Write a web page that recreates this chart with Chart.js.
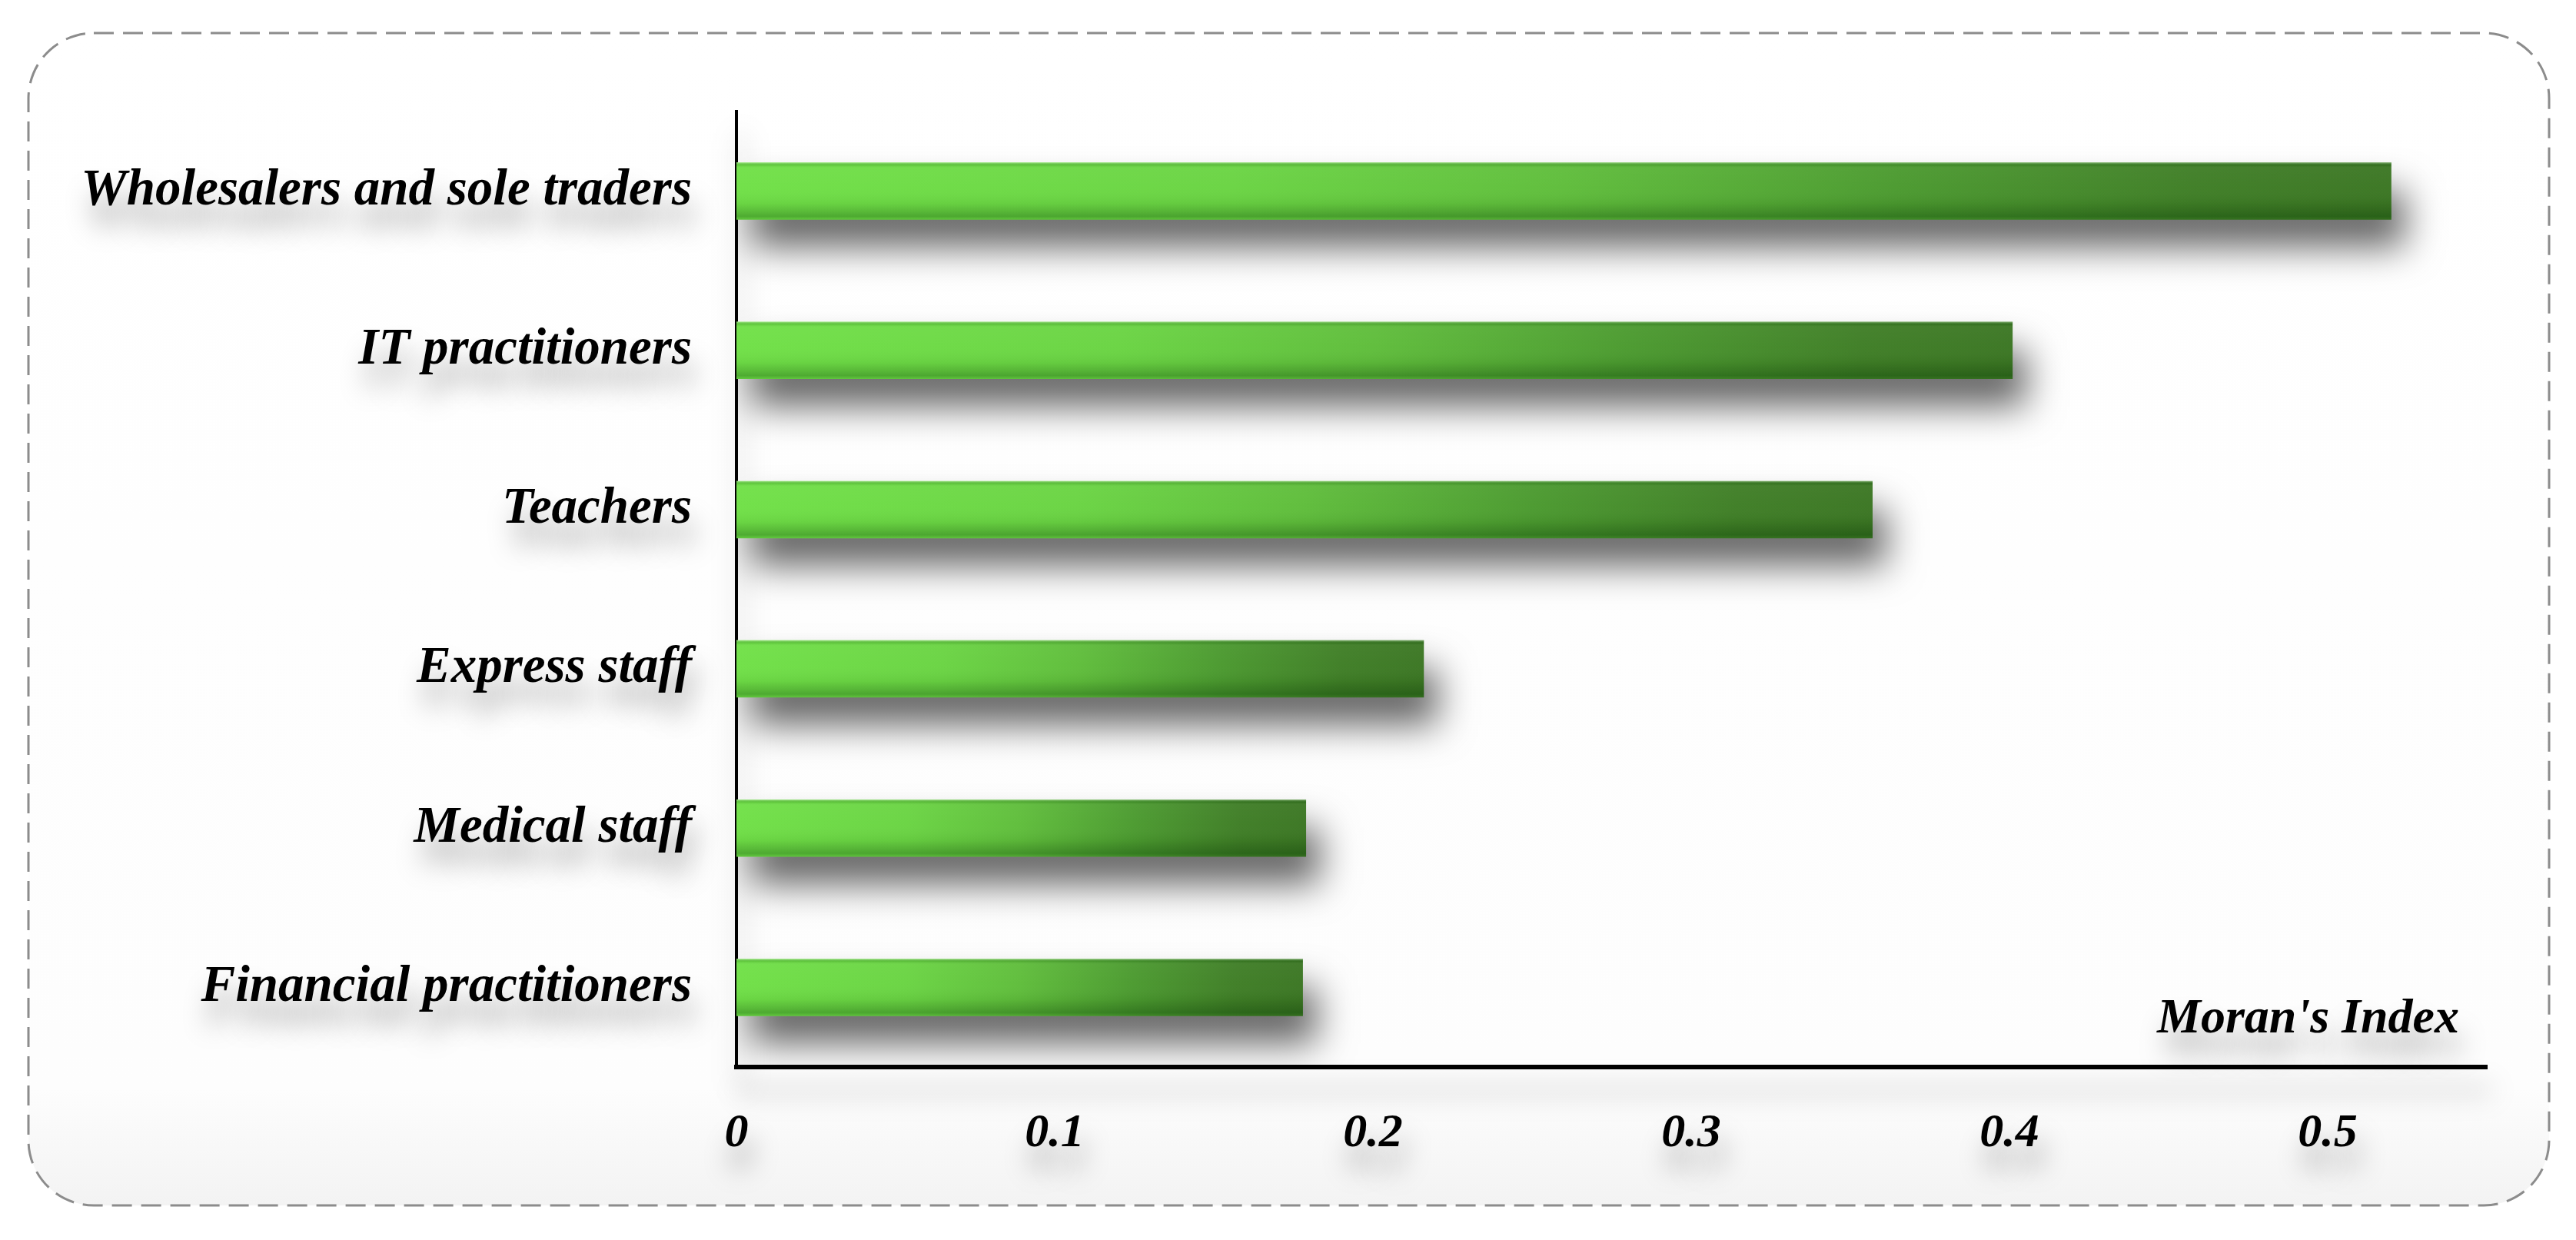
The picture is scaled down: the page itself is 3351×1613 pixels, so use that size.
<!DOCTYPE html>
<html>
<head>
<meta charset="utf-8">
<script src="https://cdn.jsdelivr.net/npm/chart.js@4"></script>
<style>
  html, body { margin: 0; padding: 0; background: #fff; }
  canvas { display: block; }
</style>
</head>
<body>
<canvas id="myChart" width="3351" height="1613"></canvas>
<script>
const groups = [
  "Wholesalers and sole traders",
  "IT practitioners",
  "Teachers",
  "Express staff",
  "Medical staff",
  "Financial practitioners",
];
const moranIndex = [0.52, 0.401, 0.357, 0.216, 0.179, 0.178];
const xTicks = [0, 0.1, 0.2, 0.3, 0.4, 0.5];
const xTitle = "Moran's Index";

const serif = "'Liberation Serif', 'Times New Roman', serif";
const ctx = document.getElementById("myChart").getContext("2d");

// horizontal green gradient, one per bar, from base to tip
const barFill = (c) => {
  const chart = c.chart;
  if (!chart.chartArea || c.parsed == null) return "#5cb83a";
  const x0 = chart.scales.x.getPixelForValue(0);
  const x1 = chart.scales.x.getPixelForValue(c.parsed.x);
  const g = chart.ctx.createLinearGradient(x0, 0, x1, 0);
  g.addColorStop(0, "#70e047");
  g.addColorStop(0.3, "#6ad443");
  g.addColorStop(0.5, "#5fbd3b");
  g.addColorStop(0.7, "#4b9a2f");
  g.addColorStop(0.88, "#3f7e26");
  g.addColorStop(1, "#3b7623");
  return g;
};

const frame = {
  id: "frame",
  beforeDraw(chart) {
    const c = chart.ctx;
    c.save();
    const bg = c.createLinearGradient(0, 43, 0, 1568);
    bg.addColorStop(0, "#ffffff");
    bg.addColorStop(0.9, "#fdfdfd");
    bg.addColorStop(1, "#f3f3f3");
    c.beginPath();
    c.roundRect(37, 43, 3279, 1525, 85);
    c.fillStyle = bg;
    c.fill();
    c.setLineDash([26, 12]);
    c.lineWidth = 3;
    c.strokeStyle = "#8c8c8c";
    c.stroke();
    c.restore();
    // soft drop shadow for everything drawn after this (text, axes)
    c.save();
    c.shadowColor = "rgba(0,0,0,0.35)";
    c.shadowBlur = 34;
    c.shadowOffsetX = 6;
    c.shadowOffsetY = 30;
  },
  beforeDatasetsDraw(chart) {
    const c = chart.ctx;
    c.save();
    c.shadowColor = "rgba(0,0,0,0.6)";
    c.shadowBlur = 48;
    c.shadowOffsetX = 18;
    c.shadowOffsetY = 36;
  },
  afterDatasetsDraw(chart) {
    const c = chart.ctx;
    c.restore();
    // glossy vertical shading on each bar
    c.save();
    c.shadowColor = "transparent";
    chart.getDatasetMeta(0).data.forEach((bar) => {
      const top = bar.y - bar.height / 2;
      const g = c.createLinearGradient(0, top, 0, top + bar.height);
      g.addColorStop(0, "rgba(230,255,220,0.5)");
      g.addColorStop(0.05, "rgba(0,60,0,0.12)");
      g.addColorStop(0.1, "rgba(255,255,255,0.04)");
      g.addColorStop(0.45, "rgba(255,255,255,0.02)");
      g.addColorStop(0.72, "rgba(0,30,0,0.06)");
      g.addColorStop(0.86, "rgba(0,40,0,0.2)");
      g.addColorStop(0.94, "rgba(0,50,0,0.3)");
      g.addColorStop(1, "rgba(0,50,0,0.12)");
      c.fillStyle = g;
      c.fillRect(bar.base, top, bar.x - bar.base, bar.height);
    });
    c.restore();
    // axis title sits inside the plot, bottom right
    const a = chart.chartArea;
    c.save();
    c.font = "italic bold 64px " + serif;
    c.fillStyle = "#000";
    c.textAlign = "right";
    c.textBaseline = "middle";
    c.fillText(xTitle, a.right - 36, a.bottom - 62);
    c.restore();
  },
  afterDraw(chart) {
    chart.ctx.restore();
  },
};

new Chart(ctx, {
  type: "bar",
  data: {
    labels: groups,
    datasets: [
      {
        label: xTitle,
        data: moranIndex,
        backgroundColor: barFill,
        borderWidth: 0,
        categoryPercentage: 0.8,
        barPercentage: 0.45,
      },
    ],
  },
  options: {
    indexAxis: "y",
    responsive: false,
    devicePixelRatio: 1,
    animation: false,
    layout: { padding: { top: 145, right: 116, bottom: 0, left: 0 } },
    plugins: {
      legend: { display: false },
      tooltip: { enabled: false },
    },
    scales: {
      x: {
        min: 0,
        max: 0.55,
        afterBuildTicks: (scale) => {
          scale.ticks = xTicks.map((v) => ({ value: v }));
        },
        afterFit: (scale) => {
          scale.height = 225;
        },
        grid: { display: false, drawTicks: false },
        border: { display: true, color: "#000", width: 6 },
        ticks: {
          color: "#000",
          padding: 50,
          font: { family: serif, size: 62, style: "italic", weight: "bold" },
          callback: (v) => String(Math.round(v * 10) / 10),
        },
      },
      y: {
        afterFit: (scale) => {
          scale.width = 958;
        },
        grid: { display: false, drawTicks: false },
        border: { display: true, color: "#000", width: 4 },
        ticks: {
          color: "#000",
          padding: 58,
          font: { family: serif, size: 67, style: "italic", weight: "bold" },
        },
      },
    },
  },
  plugins: [frame],
});
</script>
</body>
</html>
